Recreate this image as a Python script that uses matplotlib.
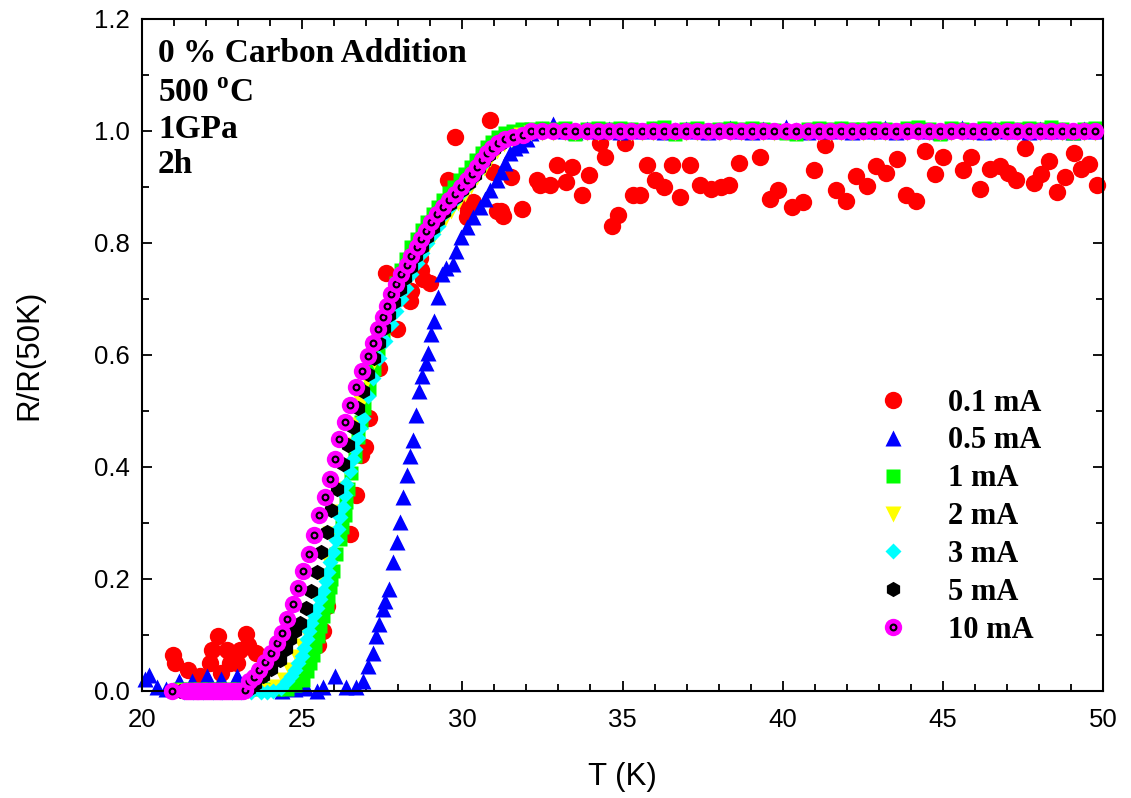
import numpy as np
import matplotlib
matplotlib.use("Agg")
import matplotlib.pyplot as plt
from matplotlib.ticker import MultipleLocator, FormatStrFormatter

# (T [K], R/R(50K))
i01_pts = [
    (20.98, .065), (21.04, .050), (21.45, .038), (21.81, .027), (22.12, .050), (22.17, .074),
    (22.38, .098), (22.48, .032), (22.64, .074), (22.74, .050), (22.95, .050), (23.05, .074),
    (23.26, .101), (23.31, .083), (23.57, .068),
    (25.50, .083), (25.66, .107), (25.76, .152), (26.48, .281), (26.67, .350), (26.84, .421),
    (26.95, .436), (27.10, .487), (27.41, .577), (27.62, .747), (27.95, .646), (28.36, .697),
    (28.41, .715), (28.77, .736), (28.98, .729), (28.72, .751), (28.67, .774), (29.55, .912),
    (29.76, .990), (30.86, 1.02), (29.97, .876), (30.17, .858), (30.14, .846), (30.34, .873),
    (30.96, .927), (31.22, .858), (31.07, .858), (31.27, .849), (31.53, .918), (31.85, .861),
    (32.32, .912), (32.42, .903), (32.73, .903), (32.94, .939), (33.25, .909), (33.41, .936),
    (33.73, .885), (33.94, .921), (34.30, .978), (34.45, .954), (34.66, .830), (34.87, .850),
    (35.08, .978), (35.34, .885), (35.55, .885), (35.77, .939), (36.02, .912), (36.28, .900),
    (36.54, .939), (36.80, .882), (37.12, .939), (37.43, .903), (37.75, .897), (38.06, .900),
    (38.32, .903), (38.63, .942), (39.30, .954), (39.61, .879), (39.87, .894), (40.29, .864),
    (40.65, .873), (40.97, .930), (41.33, .975), (41.65, .895), (41.99, .875), (42.30, .919),
    (42.62, .901), (42.93, .937), (43.24, .925), (43.56, .950), (43.84, .885), (44.17, .875),
    (44.44, .965), (44.75, .923), (45.02, .954), (45.64, .930), (45.89, .954), (46.17, .897),
    (46.48, .933), (46.78, .937), (47.03, .925), (47.30, .912), (47.58, .969), (47.84, .907),
    (48.06, .923), (48.33, .946), (48.58, .891), (48.83, .917), (49.09, .961), (49.31, .933),
    (49.58, .941), (49.81, .903),
]

i05_pts = [
    (20.08, .022), (20.22, .028), (20.46, .008), (20.75, .004), (21.14, .017), (21.56, .017),
    (22.02, .026), (22.48, .022), (22.95, .026), (23.36, .010), (23.86, .005), (24.36, .000),
    (24.76, .003), (25.12, .005), (25.45, .000), (25.66, .008), (26.02, .026), (26.38, .008),
    (26.69, .008), (26.89, .017), (27.05, .044), (27.20, .068), (27.31, .098), (27.41, .120),
    (27.51, .146), (27.60, .160), (27.72, .182), (27.84, .230), (27.96, .266), (28.06, .302),
    (28.16, .347), (28.27, .385), (28.37, .420), (28.45, .448), (28.56, .493), (28.66, .535),
    (28.74, .562), (28.87, .586), (28.94, .604), (29.02, .637), (29.12, .661), (29.23, .703),
    (29.38, .745), (29.50, .756), (29.70, .762), (29.81, .786), (29.97, .810), (30.13, .828),
    (30.34, .846), (30.54, .864), (30.70, .879), (30.86, .894), (31.07, .912), (31.22, .927),
    (31.32, .942), (31.48, .960), (31.63, .969), (31.84, .975), (32.02, .985),
]

i1_pts = [
    (21.2, .004), (21.5, .004), (21.8, .004), (22.1, .004), (22.4, .004), (22.7, .004),
    (23.0, .004), (23.3, .004), (23.6, .004), (23.9, .004), (24.2, .004),
    (24.52, .003), (24.78, .010), (25.03, .020), (25.14, .035), (25.24, .050), (25.33, .065),
    (25.40, .080), (25.48, .098), (25.55, .116), (25.66, .134), (25.76, .152), (25.81, .168),
    (25.86, .185), (25.91, .200), (25.96, .215), (26.06, .245), (26.17, .272), (26.25, .293),
    (26.33, .314), (26.38, .337), (26.43, .361), (26.53, .390), (26.64, .420), (26.74, .454),
    (26.83, .480), (26.93, .505), (27.08, .540), (27.23, .575), (27.38, .610), (27.51, .640),
    (27.64, .670), (27.77, .700), (27.92, .728), (28.07, .752), (28.23, .772), (28.40, .792),
    (28.57, .808), (28.74, .823), (28.90, .838), (29.07, .852), (29.24, .865), (29.40, .877),
    (29.57, .889), (29.74, .900), (29.92, .912), (30.09, .924), (30.26, .936), (30.43, .948),
    (30.60, .960), (30.77, .971), (30.94, .981), (31.12, .990), (31.32, .996), (31.57, 1.0),
    (31.87, 1.003),
]

i2_pts = [
    (21.3, 0.0), (21.7, 0.0), (22.1, 0.0), (22.5, 0.0), (22.9, 0.0), (23.3, 0.0), (23.7, 0.0),
    (23.88, .000), (24.18, .008), (24.43, .020), (24.63, .038), (24.83, .060), (24.98, .080),
    (25.13, .105), (25.28, .135), (25.43, .170), (25.58, .205), (25.73, .240), (25.88, .280),
    (26.03, .320), (26.18, .360), (26.33, .400), (26.48, .440), (26.63, .475), (26.83, .515),
    (27.03, .555), (27.23, .590), (27.43, .622), (27.63, .652), (27.83, .680), (28.05, .705),
    (28.25, .728), (28.45, .750), (28.65, .770), (28.85, .790), (29.05, .808), (29.25, .825),
    (29.45, .842), (29.65, .857), (29.85, .872), (30.07, .887), (30.27, .902), (30.47, .918),
    (30.67, .934), (30.87, .950), (31.07, .964), (31.30, .977), (31.54, .986), (31.82, .992),
]

i3_pts = [
    (21.3, -.002), (21.6, -.002), (21.9, -.002), (22.2, -.002), (22.5, -.002), (22.8, -.002),
    (23.1, -.002), (23.4, -.002), (23.7, -.002), (23.9, -.002),
    (24.10, .000), (24.33, .006), (24.52, .017), (24.66, .027), (24.78, .038), (24.88, .050),
    (24.98, .062), (25.06, .077), (25.14, .092), (25.22, .107), (25.29, .122), (25.37, .136),
    (25.45, .149), (25.55, .164), (25.66, .179), (25.74, .196), (25.81, .212), (25.88, .230),
    (25.96, .248), (26.04, .269), (26.12, .290), (26.19, .310), (26.27, .329), (26.33, .350),
    (26.38, .370), (26.48, .392), (26.59, .415), (26.66, .433), (26.74, .451), (26.82, .470),
    (26.89, .487), (27.05, .526), (27.20, .559), (27.41, .595), (27.57, .625), (27.77, .655),
    (27.93, .679), (28.10, .700), (28.25, .720), (28.40, .745), (28.57, .765), (28.74, .783),
    (28.91, .800), (29.07, .816), (29.24, .831), (29.41, .850), (29.58, .862), (29.75, .875),
    (29.92, .888), (30.10, .900), (30.28, .912), (30.45, .927), (30.62, .940), (30.81, .955),
    (31.02, .970), (31.26, .981), (31.51, .988), (31.77, .993),
]

i5_pts = [
    (21.2, 0.0), (21.4, 0.0), (21.6, 0.0), (21.8, 0.0), (22.0, 0.0), (22.2, 0.0),
    (22.4, 0.0), (22.6, 0.0), (22.8, 0.0), (23.0, 0.0), (23.2, 0.0),
    (23.33, .004), (23.53, .012), (23.79, .026), (24.03, .040), (24.31, .056), (24.48, .075),
    (24.62, .092), (24.78, .107), (24.93, .122), (25.12, .149), (25.29, .179), (25.45, .212),
    (25.60, .248), (25.76, .284), (25.91, .323), (26.09, .361), (26.27, .406), (26.43, .439),
    (26.59, .472), (26.74, .505), (26.90, .536), (27.06, .566), (27.23, .595), (27.40, .622),
    (27.56, .648), (27.72, .672), (27.88, .695), (28.06, .717), (28.22, .738), (28.39, .758),
    (28.56, .776), (28.73, .793), (28.90, .810), (29.07, .826), (29.25, .841), (29.44, .856),
    (29.62, .869), (29.81, .882), (29.99, .895), (30.20, .908), (30.38, .921), (30.52, .934),
    (30.67, .947), (30.82, .958), (30.99, .968), (31.19, .977), (31.42, .985), (31.77, .991),
]

i10_pts = [
    (20.93, 0.0), (21.35, 0.0), (21.40, 0.0), (21.46, 0.0), (21.52, 0.0), (21.58, 0.0),
    (21.64, 0.0), (21.70, 0.0), (21.76, 0.0), (21.82, 0.0), (21.88, 0.0), (21.94, 0.0),
    (22.00, 0.0), (22.06, 0.0), (22.12, 0.0), (22.18, 0.0), (22.24, 0.0), (22.30, 0.0),
    (22.36, 0.0), (22.42, 0.0), (22.48, 0.0), (22.54, 0.0), (22.60, 0.0), (22.66, 0.0),
    (22.72, 0.0), (22.78, 0.0), (22.84, 0.0), (22.90, 0.0), (22.96, 0.0), (23.02, 0.0),
    (23.08, 0.0), (23.14, 0.0), (23.20, 0.002),
    (23.33, .017), (23.48, .025), (23.66, .037), (23.85, .052), (24.02, .067), (24.21, .085),
    (24.38, .104), (24.54, .128), (24.70, .155), (24.88, .184), (25.03, .214), (25.21, .245),
    (25.37, .279), (25.53, .314), (25.71, .346), (25.86, .379), (26.02, .415), (26.15, .450),
    (26.33, .480), (26.50, .511), (26.69, .542), (26.87, .572), (27.05, .598), (27.20, .622),
    (27.38, .646), (27.51, .667), (27.64, .688), (27.77, .709), (27.94, .727), (28.10, .745),
    (28.26, .761), (28.41, .776), (28.57, .792), (28.72, .807), (28.88, .822), (29.03, .837),
    (29.21, .851), (29.39, .864), (29.57, .876), (29.76, .888), (29.95, .900), (30.14, .912),
    (30.29, .924), (30.45, .936), (30.60, .948), (30.76, .960), (30.93, .970), (31.12, .978),
    (31.32, .985), (31.58, .990), (31.89, .993),
]

# normal-state temperatures above ~32 K (shared by all currents above 0.1 mA)
plateau_T = [
    32.15, 32.50, 32.84, 33.19, 33.53, 33.88, 34.22, 34.57, 34.91, 35.26,
    35.60, 35.95, 36.29, 36.64, 36.98, 37.33, 37.67, 38.02, 38.36, 38.71,
    39.05, 39.40, 39.74, 40.09, 40.43, 40.78, 41.12, 41.47, 41.81, 42.16,
    42.50, 42.85, 43.19, 43.54, 43.88, 44.23, 44.57, 44.92, 45.26, 45.61,
    45.95, 46.30, 46.64, 46.99, 47.33, 47.68, 48.02, 48.37, 48.71, 49.06,
    49.40, 49.75,
]
plateau_05 = [
    0.996, 1.003, 1.012, 1.000, 0.998, 1.004, 1.000, 1.003, 0.999, 1.002,
    1.000, 1.004, 0.998, 1.001, 1.003, 1.000, 0.999, 1.002, 1.006, 1.000,
    0.998, 1.003, 1.000, 1.008, 1.001, 0.999, 1.002, 1.000, 1.004, 0.999,
    1.002, 1.000, 1.006, 0.998, 1.001, 1.003, 1.000, 0.999, 1.002, 1.005,
    1.000, 0.998, 1.003, 1.000, 1.002, 0.999, 1.004, 1.000, 1.001, 0.998,
    1.003, 1.000,
]
plateau_1 = [
    1.004, 1.006, 1.003, 1.005, 0.995, 1.004, 1.006, 1.003, 1.005, 1.004,
    1.002, 1.005, 1.007, 0.994, 1.004, 1.006, 1.002, 1.004, 1.005, 1.003,
    1.006, 1.004, 1.002, 0.996, 0.995, 1.004, 1.006, 1.003, 1.005, 1.004,
    1.003, 1.006, 1.004, 1.002, 1.005, 1.007, 1.004, 0.995, 1.006, 1.004,
    1.002, 1.005, 1.004, 1.006, 1.003, 1.005, 1.004, 1.007, 1.003, 0.996,
    1.004, 1.006,
]
plateau_2 = [0.996] * len(plateau_T)
plateau_3 = [0.999] * len(plateau_T)
plateau_5 = [1.0] * len(plateau_T)
plateau_10 = [1.0] * len(plateau_T)

labels = ["0.1 mA", "0.5 mA", "1 mA", "2 mA", "3 mA", "5 mA", "10 mA"]
notes = ["0 % Carbon Addition", r"500 $^{\mathbf{o}}$C", "1GPa", "2h"]


def series(pts, plat_r=None):
    t, r = np.array(pts).T
    if plat_r is not None:
        t = np.concatenate([t, plateau_T])
        r = np.concatenate([r, plat_r])
    return t, r


def draw(save_path="out.png"):
    plt.rcParams["mathtext.fontset"] = "custom"
    plt.rcParams["mathtext.bf"] = "Liberation Serif:bold"
    plt.rcParams["mathtext.rm"] = "Liberation Serif"

    fig = plt.figure(figsize=(11.31, 7.98), dpi=100)
    ax = fig.add_axes([0.1256, 0.1341, 0.8496, 0.8421])

    styles = [
        dict(marker="o", color="#ff0000", ms=12.5),
        dict(marker="^", color="#0000ff", ms=12),
        dict(marker="s", color="#00ff00", ms=10.5),
        dict(marker="v", color="#ffff00", ms=11),
        dict(marker="D", color="#00ffff", ms=8.5),
        dict(marker="h", color="#000000", ms=11),
        dict(marker="o", color="#ff00ff", ms=12.5),
    ]
    data = [
        series(i01_pts),
        series(i05_pts, plateau_05),
        series(i1_pts, plateau_1),
        series(i2_pts, plateau_2),
        series(i3_pts, plateau_3),
        series(i5_pts, plateau_5),
        series(i10_pts, plateau_10),
    ]

    handles = []
    for (t, r), st in zip(data[:-1], styles[:-1]):
        h, = ax.plot(t, r, linestyle="none", marker=st["marker"], ms=st["ms"],
                     mfc=st["color"], mec="none", clip_on=False)
        handles.append(h)

    # 10 mA: ring marker with a dot, drawn point by point so the next one overlaps
    st = styles[-1]
    t10, r10 = data[-1]
    for k, (t, r) in enumerate(zip(t10, r10)):
        outer, = ax.plot([t], [r], linestyle="none", marker="o", ms=st["ms"],
                         mfc=st["color"], mec="none", clip_on=False, zorder=3 + 0.001 * k)
        inner, = ax.plot([t], [r], linestyle="none", marker="o", ms=4.2, mfc=st["color"],
                         mec="black", mew=1.5, clip_on=False, zorder=3 + 0.001 * k + 0.0005)
    handles.append((outer, inner))

    ax.set_xlim(20, 50)
    ax.set_ylim(0, 1.2)
    ax.xaxis.set_major_locator(MultipleLocator(5))
    ax.xaxis.set_minor_locator(MultipleLocator(1))
    ax.yaxis.set_major_locator(MultipleLocator(0.2))
    ax.yaxis.set_minor_locator(MultipleLocator(0.1))
    ax.yaxis.set_major_formatter(FormatStrFormatter("%.1f"))
    ax.tick_params(which="both", direction="in", top=True, right=True, width=1.3)
    ax.tick_params(which="major", length=7.2)
    ax.tick_params(which="minor", length=4.8)
    ax.tick_params(axis="x", which="major", pad=12)
    ax.tick_params(axis="y", which="major", pad=8.5)
    for lab in ax.get_xticklabels() + ax.get_yticklabels():
        lab.set_fontfamily("Liberation Sans")
        lab.set_fontsize(18.5)
    for sp in ax.spines.values():
        sp.set_linewidth(1.5)

    ax.set_xlabel("T (K)", fontfamily="Liberation Sans", fontsize=22.5, labelpad=22)
    ax.set_ylabel("R/R(50K)", fontfamily="Liberation Sans", fontsize=22.5, labelpad=36)

    ys = [0.936, 0.8765, 0.823, 0.771]
    for txt, y in zip(notes, ys):
        ax.text(0.0167, y, txt, transform=ax.transAxes, va="baseline", ha="left",
                fontfamily="Liberation Serif", fontweight="bold", fontsize=24)

    ax.legend(handles, labels, loc="upper left", bbox_to_anchor=(0.776, 0.513),
              bbox_transform=fig.transFigure, frameon=False, borderpad=0,
              borderaxespad=0, handlelength=1.0, handletextpad=1.29,
              labelspacing=0.29, numpoints=1,
              prop={"family": "Liberation Serif", "weight": "bold", "size": 22})

    plt.savefig(save_path, dpi=100)
    plt.close(fig)


draw()
